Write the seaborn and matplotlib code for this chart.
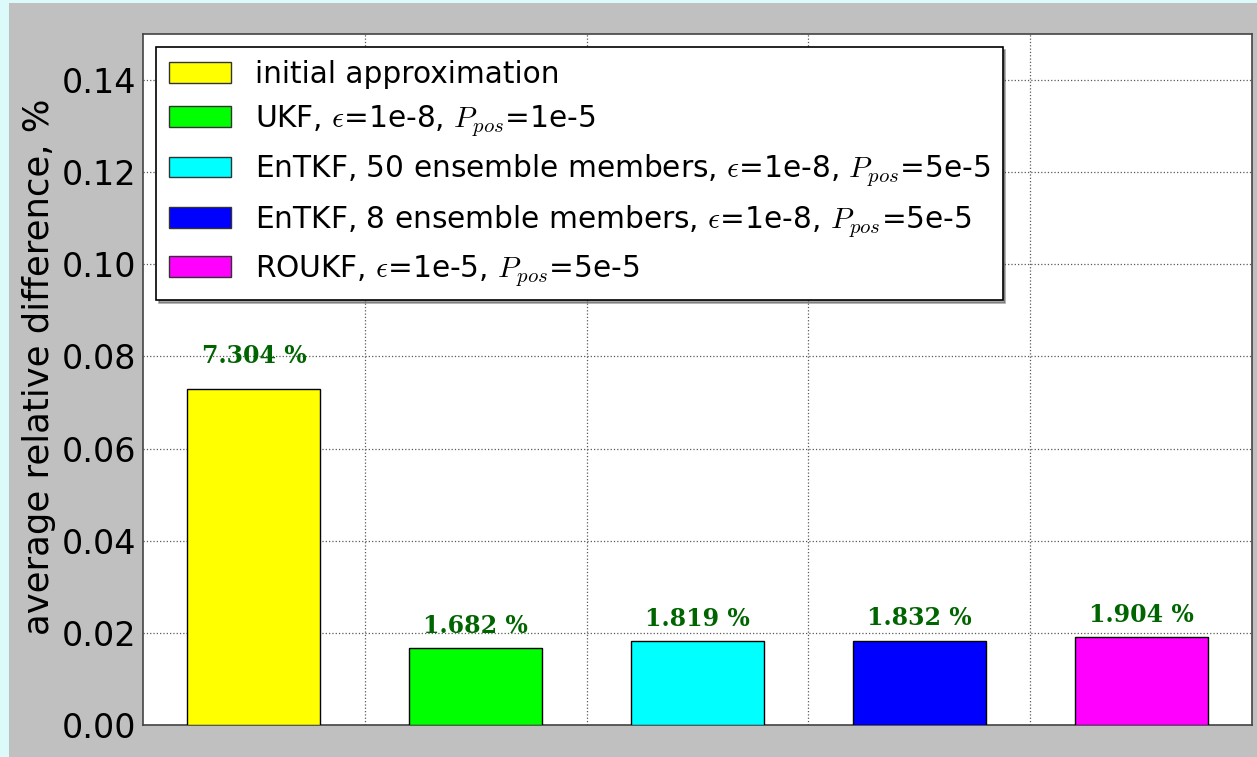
import matplotlib
matplotlib.use("Agg")
import matplotlib.pyplot as plt
from matplotlib.patches import Rectangle, Patch
import pandas as pd
import seaborn as sns

# Filter comparison: average relative difference per method
methods = [
    "initial approximation",
    r"UKF, $\epsilon$=1e-8, $P_{pos}$=1e-5",
    r"EnTKF, 50 ensemble members, $\epsilon$=1e-8, $P_{pos}$=5e-5",
    r"EnTKF, 8 ensemble members, $\epsilon$=1e-8, $P_{pos}$=5e-5",
    r"ROUKF, $\epsilon$=1e-5, $P_{pos}$=5e-5",
]
percent_values = [7.304, 1.682, 1.819, 1.832, 1.904]
bar_colors = ["#ffff00", "#00ff00", "#00ffff", "#0000ff", "#ff00ff"]
y_ticks = [0.00, 0.02, 0.04, 0.06, 0.08, 0.10, 0.12, 0.14]

sns.set_style("white")
plt.rcParams["font.family"] = ["DejaVu Sans"]
plt.rcParams["mathtext.fontset"] = "cm"
for key in ("text.color", "axes.labelcolor", "xtick.color", "ytick.color"):
    plt.rcParams[key] = "black"

df = pd.DataFrame({
    "method": methods,
    "value": [p / 100.0 for p in percent_values],
})

fig = plt.figure(figsize=(12.57, 7.57), dpi=100, facecolor="#c0c0c0")
# light strip along the left and top edges
fig.patches.append(Rectangle((0, 0), 9 / 1257, 1, transform=fig.transFigure,
                             facecolor="#dcfafa", edgecolor="none", zorder=-1))
fig.patches.append(Rectangle((0, 1 - 3 / 757), 1, 3 / 757, transform=fig.transFigure,
                             facecolor="#dcfafa", edgecolor="none", zorder=-1))

ax = fig.add_axes([143 / 1257, 1 - 725 / 757, (1252 - 143) / 1257, (725 - 34) / 757])
ax.set_facecolor("white")

sns.barplot(data=df, x="method", y="value", hue="method", palette=bar_colors,
            saturation=1, width=0.6, edgecolor="black", linewidth=1.0,
            legend=False, ax=ax, zorder=3)

# value labels above the bars
for i, p in enumerate(percent_values):
    h = p / 100.0
    ax.text(i, 1.04 * h + 0.0015, f"{p:.3f} %", ha="center", va="bottom",
            family="DejaVu Serif", fontweight="bold", fontsize=17,
            color="#006400", zorder=4)

ax.set_xlim(-0.5, 4.5)
ax.set_ylim(0, 0.15)
ax.set_xticks([0.5, 1.5, 2.5, 3.5])
ax.set_xticklabels([])
ax.set_xlabel("")
ax.set_yticks(y_ticks)
ax.set_yticklabels([f"{t:.2f}" for t in y_ticks])
ax.tick_params(axis="both", length=0, labelsize=24, pad=5)
ax.set_ylabel("average relative difference, %", fontsize=25.5)
ax.yaxis.set_label_coords(-0.0785, 0.518)

ax.grid(True, which="major", linestyle=":", color="0.35", linewidth=0.9, zorder=0)
ax.set_axisbelow(True)
for s in ax.spines.values():
    s.set_color("#444444")
    s.set_linewidth(1.2)

handles = [Patch(facecolor=c, edgecolor="#333333", linewidth=1.0) for c in bar_colors]
leg = ax.legend(handles, methods, loc="upper left", fontsize=21.3,
                frameon=True, fancybox=False, shadow=True, framealpha=1,
                edgecolor="black", handlelength=2.1, handleheight=0.7,
                handletextpad=0.8, labelspacing=0.49, borderpad=0.42,
                borderaxespad=0.45)
leg.get_frame().set_linewidth(1.2)

fig.savefig("out.png", dpi=100, facecolor=fig.get_facecolor())
